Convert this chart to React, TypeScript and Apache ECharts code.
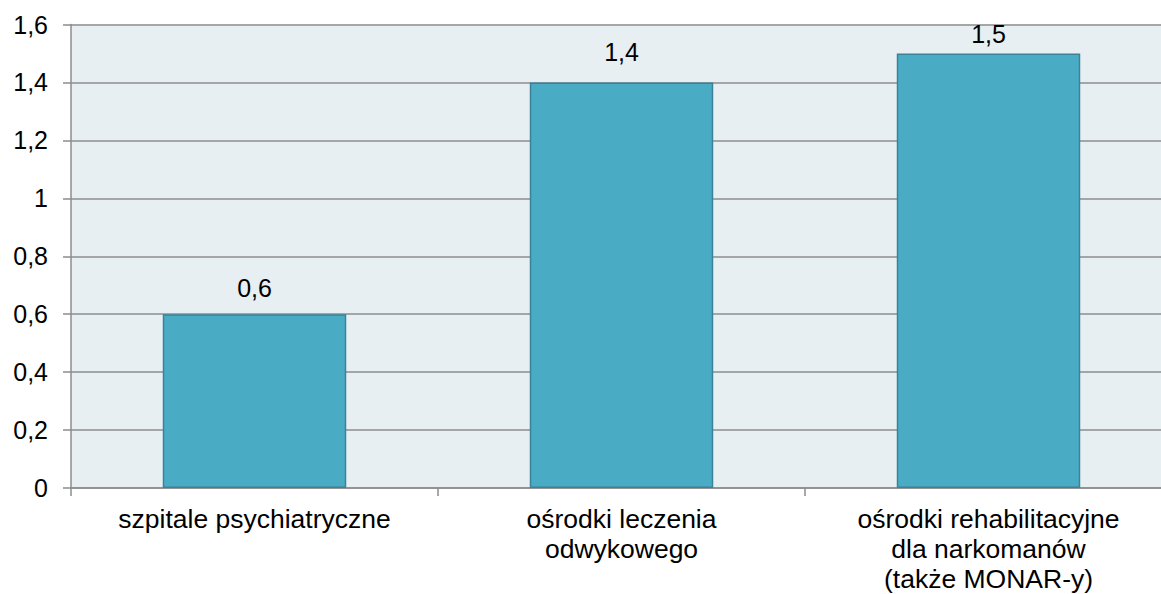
import React, { useEffect, useRef } from "react";
import * as echarts from "echarts";

const categories = [
  "szpitale psychiatryczne",
  "ośrodki leczenia\nodwykowego",
  "ośrodki rehabilitacyjne\ndla narkomanów\n(także MONAR-y)",
];
const values = [0.6, 1.4, 1.5];
const labelDistances = [14, 18, 6.5];
const yMin = 0;
const yMax = 1.6;
const yInterval = 0.2;

const fmt = (v: number) => String(+Number(v).toFixed(1)).replace(".", ",");

export default function App() {
  const ref = useRef<HTMLDivElement>(null);
  useEffect(() => {
    if (!ref.current) return;
    const chart = echarts.init(ref.current, undefined, { renderer: "svg" });
    const font = "'Liberation Sans', Arial, sans-serif";
    chart.setOption({
      animation: false,
      grid: {
        left: 71,
        top: 24.5,
        width: 1101,
        height: 464,
        show: true,
        backgroundColor: "#E8EFF2",
        borderWidth: 0,
        containLabel: false,
      },
      xAxis: {
        type: "category",
        data: categories,
        axisLine: { show: true, lineStyle: { color: "#8C8C8C", width: 1.5 } },
        axisTick: { show: true, length: 8, lineStyle: { color: "#8C8C8C", width: 1.5 } },
        axisLabel: {
          color: "#000",
          fontFamily: font,
          fontSize: 26.5,
          lineHeight: 30,
          margin: 16,
          interval: 0,
        },
      },
      yAxis: {
        type: "value",
        min: yMin,
        max: yMax,
        interval: yInterval,
        axisLine: { show: true, lineStyle: { color: "#8C8C8C", width: 1.5 } },
        axisTick: { show: true, length: 8, lineStyle: { color: "#8C8C8C", width: 1.5 } },
        splitLine: { show: true, lineStyle: { color: "#8C8C8C", width: 1.5 } },
        axisLabel: {
          color: "#000",
          fontFamily: font,
          fontSize: 25,
          margin: 23,
          formatter: (v: number) => fmt(v),
        },
      },
      series: [
        {
          type: "bar",
          data: values.map((v, i) => ({
            value: v,
            label: { distance: labelDistances[i] },
          })),
          barWidth: "50%",
          itemStyle: {
            color: "#4AABC5",
            borderColor: "#3A8298",
            borderWidth: 1.5,
          },
          label: {
            show: true,
            position: "top",
            color: "#000",
            fontFamily: font,
            fontSize: 25,
            lineHeight: 25,
            formatter: (p: any) => fmt(p.value),
          },
        },
      ],
    });
    return () => chart.dispose();
  }, []);
  return (
    <div
      style={{
        position: "fixed",
        left: 0,
        top: 0,
        width: 1161,
        height: 594,
        overflow: "hidden",
        background: "#fff",
      }}
    >
      <div ref={ref} style={{ width: 1200, height: 594 }} />
    </div>
  );
}
